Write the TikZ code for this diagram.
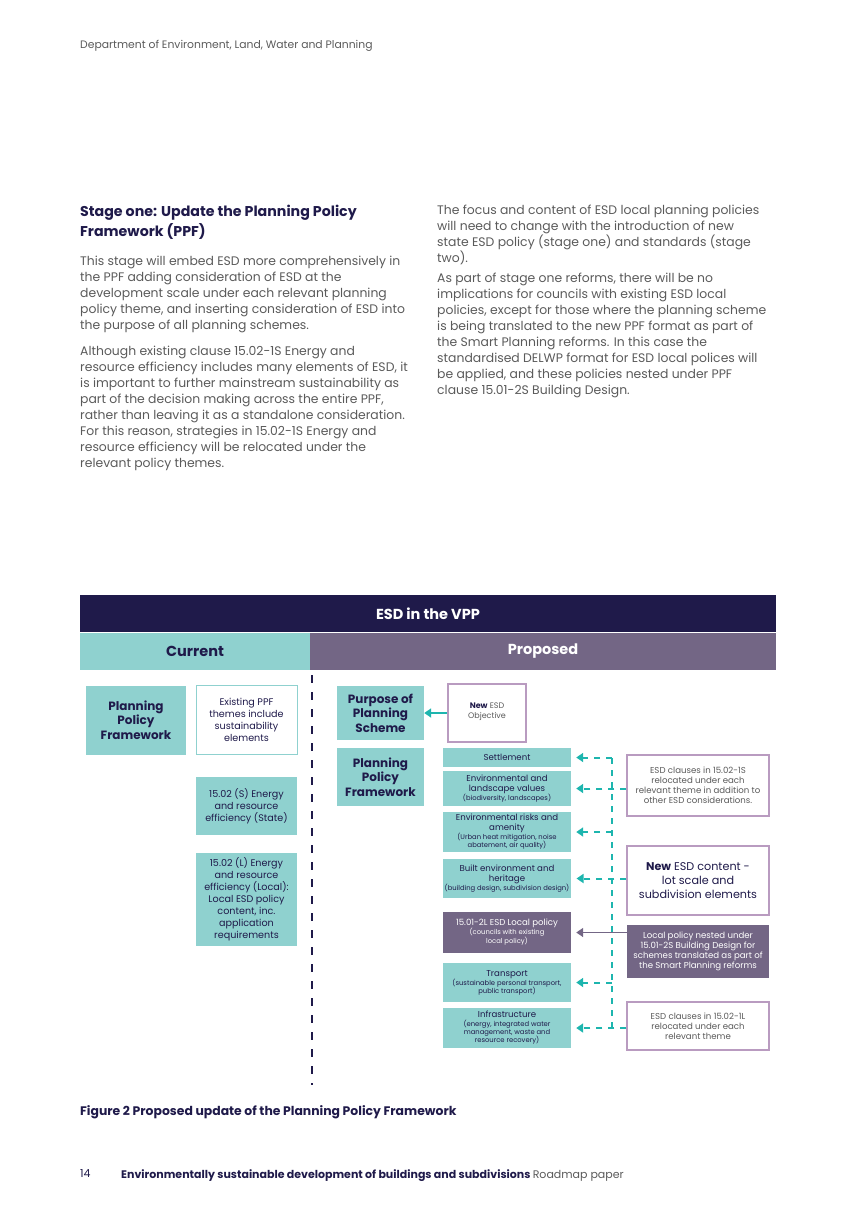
\documentclass[tikz,border=0pt]{standalone}
\usepackage{fontspec}
\setmainfont{Poppins}
\usetikzlibrary{arrows.meta,positioning}
\definecolor{navy}{HTML}{1F1A4A}
\definecolor{tealbox}{HTML}{8FD1CF}
\definecolor{plum}{HTML}{736685}
\definecolor{plumline}{HTML}{B99BC0}
\definecolor{arrowteal}{HTML}{1DB5AE}
\definecolor{bodygrey}{HTML}{5A5A5A}
\tikzset{
  para/.style={anchor=north west, align=left, text=bodygrey, font=\fontsize{12.4}{16}\selectfont, inner sep=0pt},
  tealbox/.style={fill=tealbox, text=navy, align=center, inner sep=2pt},
  plumbox/.style={fill=plum, text=white, align=center, inner sep=2pt},
  outbox/.style={fill=white, draw=plumline, line width=1.2pt, text=bodygrey, align=center, inner sep=2pt},
  headbox/.style={font=\bfseries\fontsize{12}{14.5}\selectfont},
  smalltxt/.style={font=\fontsize{8.6}{10}\selectfont},
  tealdash/.style={arrowteal, line width=2pt, dash pattern=on 6pt off 6pt},
  tealarrow/.style={tealdash, -{Triangle[length=7pt,width=9pt]}, shorten >=5pt}
}
\newcommand\minitxt{\fontsize{6.8}{7.6}\selectfont}
\begin{document}
\begin{tikzpicture}[x=1pt,y=-1pt]
\useasboundingbox (0,0) rectangle (856,1212);
% page text
\node[para, font=\fontsize{10.8}{12}\selectfont, text=bodygrey] (dept) at (80,40) {Department of Environment, Land, Water and Planning};
\node[para, text=navy, font=\bfseries\fontsize{14.2}{20}\selectfont] (stage) at (80,205) {Stage one: Update the Planning Policy\\Framework (PPF)};
\node[para] (lp1) at (80,256) {This stage will embed ESD more comprehensively in\\the PPF adding consideration of ESD at the\\development scale under each relevant planning\\policy theme, and inserting consideration of ESD into\\the purpose of all planning schemes.};
\node[para] (lp2) at (80,346) {Although existing clause 15.02-1S Energy and\\resource efficiency includes many elements of ESD, it\\is important to further mainstream sustainability as\\part of the decision making across the entire PPF,\\rather than leaving it as a standalone consideration.\\For this reason, strategies in 15.02-1S Energy and\\resource efficiency will be relocated under the\\relevant policy themes.};
\node[para] (rp1) at (437,205) {The focus and content of ESD local planning policies\\will need to change with the introduction of new\\state ESD policy (stage one) and standards (stage\\two).};
\node[para] (rp2) at (437,273) {As part of stage one reforms, there will be no\\implications for councils with existing ESD local\\policies, except for those where the planning scheme\\is being translated to the new PPF format as part of\\the Smart Planning reforms. In this case the\\standardised DELWP format for ESD local polices will\\be applied, and these policies nested under PPF\\clause 15.01-2S Building Design.};

% header bars
\fill[navy] (80,595) rectangle (776,632);
\node[text=white, font=\bfseries\fontsize{14.5}{16}\selectfont] (title) at (428,614) {ESD in the VPP};
\fill[tealbox] (80,633) rectangle (310,670);
\fill[plum] (310,633) rectangle (776,670);
\node[text=navy, font=\bfseries\fontsize{14.5}{16}\selectfont] (current) at (195,651) {Current};
\node[text=white, font=\bfseries\fontsize{14.5}{16}\selectfont] (proposed) at (543,651) {Proposed};
\draw[navy, line width=2.4pt, dash pattern=on 8pt off 9pt] (312,675) -- (312,1085);

% current column
\node[tealbox, headbox, minimum width=100pt, minimum height=69pt] (ppfcur) at (136,720) {Planning\\Policy\\Framework};
\node[outbox, draw=tealbox, line width=0.8pt, text=navy, font=\fontsize{9.6}{12}\selectfont, minimum width=101pt, minimum height=69pt] (existing) at (246.5,720) {Existing PPF\\themes include\\sustainability\\elements};
\node[tealbox, font=\fontsize{9.6}{12}\selectfont, minimum width=101pt, minimum height=58pt] (energyS) at (246.5,806) {15.02 (S) Energy\\and resource\\efficiency (State)};
\node[tealbox, font=\fontsize{9.6}{12}\selectfont, minimum width=101pt, minimum height=93pt] (energyL) at (246.5,899) {15.02 (L) Energy\\and resource\\efficiency (Local):\\Local ESD policy\\content, inc.\\application\\requirements};

% proposed column
\node[tealbox, headbox, minimum width=87pt, minimum height=54pt] (purpose) at (380.5,713) {Purpose of\\Planning\\Scheme};
\node[tealbox, headbox, minimum width=87pt, minimum height=58pt] (ppfnew) at (380.5,777) {Planning\\Policy\\Framework};
\node[outbox, text=bodygrey, font=\fontsize{8}{10}\selectfont, minimum width=78pt, minimum height=58pt, text height=14pt] (newobj) at (487,713) {\textcolor{navy}{\bfseries New} ESD\\Objective};
\draw[arrowteal, line width=2pt, -{Triangle[length=7pt,width=9pt]}] (newobj.west) -- (purpose.east);

\node[tealbox, smalltxt, minimum width=128pt, minimum height=19pt] (settle) at (507,757.5) {Settlement};
\node[tealbox, smalltxt, minimum width=128pt, minimum height=35pt] (envland) at (507,788.5) {Environmental and\\landscape values\\[-1pt]{\minitxt(biodiversity, landscapes)}};
\node[tealbox, smalltxt, minimum width=128pt, minimum height=40pt] (envrisk) at (507,832) {Environmental risks and\\amenity\\[-1pt]{\minitxt(Urban heat mitigation, noise}\\[-2pt]{\minitxt abatement, air quality)}};
\node[tealbox, smalltxt, minimum width=128pt, minimum height=39pt] (built) at (507,878.5) {Built environment and\\heritage\\[-1pt]{\minitxt(building design, subdivision design)}};
\node[plumbox, smalltxt, minimum width=128pt, minimum height=41pt] (localpol) at (507,932.5) {15.01-2L ESD Local policy\\[-1pt]{\minitxt(councils with existing}\\[-1pt]{\minitxt local policy)}};
\node[tealbox, smalltxt, minimum width=128pt, minimum height=39pt] (transport) at (507,982.5) {Transport\\[-1pt]{\minitxt(sustainable personal transport,}\\[-2pt]{\minitxt public transport)}};
\node[tealbox, smalltxt, minimum width=128pt, minimum height=40pt, inner sep=1pt] (infra) at (507,1028) {Infrastructure\\[-1pt]{\minitxt(energy, integrated water}\\[-2pt]{\minitxt management, waste and}\\[-2pt]{\minitxt resource recovery)}};

\node[outbox, smalltxt, minimum width=142pt, minimum height=61pt] (clause1S) at (698,785.5) {ESD clauses in 15.02-1S\\relocated under each\\relevant theme in addition to\\other ESD considerations.};
\node[outbox, text=navy, font=\fontsize{11.2}{14}\selectfont, minimum width=142pt, minimum height=69pt] (newcontent) at (698,880.5) {\bfseries New\mdseries{} ESD content -\\lot scale and\\subdivision elements};
\node[plumbox, smalltxt, minimum width=142pt, minimum height=53pt] (nested) at (698,951.5) {Local policy nested under\\15.01-2S Building Design for\\schemes translated as part of\\the Smart Planning reforms};
\node[outbox, smalltxt, minimum width=142pt, minimum height=48pt] (clause1L) at (698,1026) {ESD clauses in 15.02-1L\\relocated under each\\relevant theme};

% connectors
\coordinate (vtop) at (612,758);
\coordinate (vbot) at (612,1027);
\draw[tealdash] (vtop) -- (vbot);
\foreach \b in {settle,envrisk,transport}
  \draw[tealarrow] (\b.east -| vtop) -- (\b.east);
\draw[tealarrow] (clause1S.west |- envland.east) -- (envland.east);
\draw[tealarrow] (newcontent.west |- built.east) -- (built.east);
\draw[tealarrow] (clause1L.west |- infra.east) -- (infra.east);
\draw[plum, line width=1.6pt, -{Triangle[length=7pt,width=9pt]}, shorten >=5pt] (nested.west |- localpol.east) -- (localpol.east);

% caption and footer
\node[para, text=navy, font=\bfseries\fontsize{12.4}{14}\selectfont] (caption) at (80,1105) {Figure 2 Proposed update of the Planning Policy Framework};
\node[para, text=navy, font=\fontsize{11}{12}\selectfont] (pageno) at (80,1169) {14};
\node[para, text=navy, font=\fontsize{11}{12}\selectfont] (footer) at (121,1169) {\bfseries Environmentally sustainable development of buildings and subdivisions \mdseries\textcolor{bodygrey}{Roadmap paper}};
\end{tikzpicture}
\end{document}
